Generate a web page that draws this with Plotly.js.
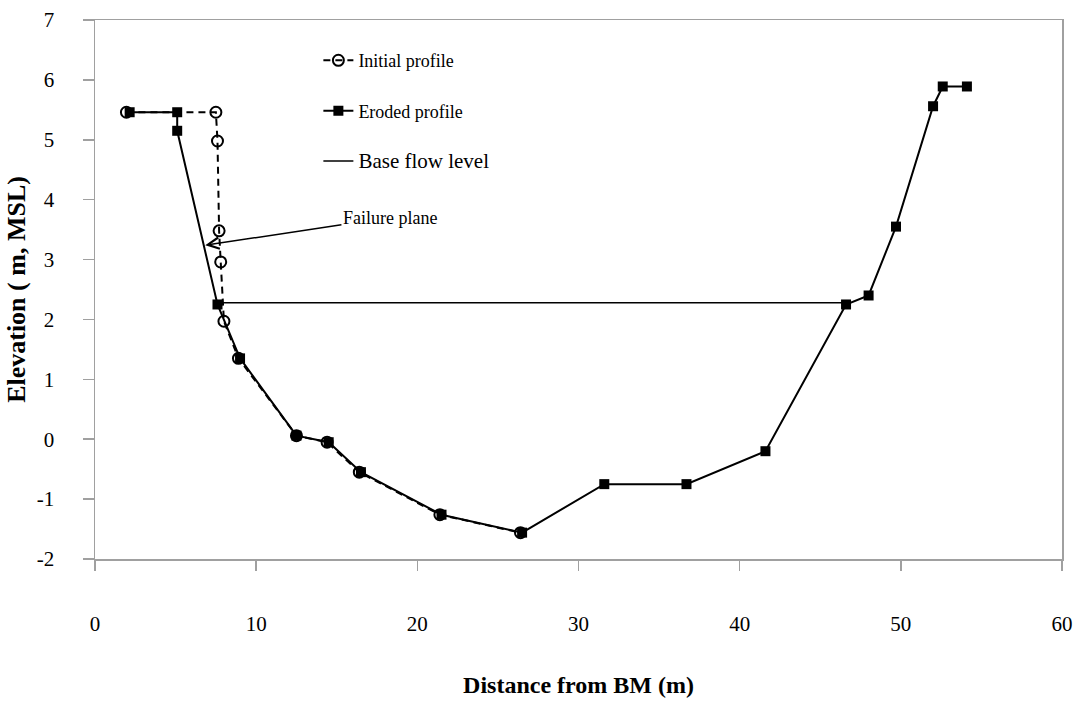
<!DOCTYPE html>
<html>
<head>
<meta charset="utf-8">
<script src="https://cdn.plot.ly/plotly-3.0.1.min.js"></script>
<style>
html,body{margin:0;padding:0;background:#fff;}
#chart{width:1084px;height:702px;}
</style>
</head>
<body>
<div id="chart"></div>
<script>
// Initial profile
const initialX = [1.95, 7.5, 7.6, 7.7, 7.8, 8.0, 8.9, 12.5, 14.4, 16.4, 21.4, 26.4];
const initialY = [5.46, 5.46, 4.98, 3.48, 2.96, 1.97, 1.35, 0.06, -0.05, -0.55, -1.26, -1.56];
// Eroded profile
const erodedX = [2.15, 5.1, 5.1, 7.6, 9.0, 12.5, 14.5, 16.5, 21.5, 26.5, 31.6, 36.7, 41.6, 46.6, 48.0, 49.7, 52.0, 52.6, 54.1];
const erodedY = [5.46, 5.46, 5.15, 2.25, 1.35, 0.06, -0.05, -0.55, -1.26, -1.56, -0.75, -0.75, -0.2, 2.25, 2.4, 3.55, 5.56, 5.89, 5.89];
// Base flow level
const baseX = [7.6, 46.6];
const baseY = [2.28, 2.28];
// Annotation
const failureTip = [6.84, 3.24];
const failureLabel = [18.3, 3.7];
const xTicks = [0, 10, 20, 30, 40, 50, 60];
const yTicks = [-2, -1, 0, 1, 2, 3, 4, 5, 6, 7];

const font = 'Liberation Serif, Times New Roman, serif';

const traces = [
  {
    x: initialX, y: initialY, name: 'Initial profile', type: 'scatter', mode: 'lines+markers',
    line: {color: '#000', width: 2, dash: '7px,5px'},
    marker: {symbol: 'circle-open', size: 11, color: '#000', line: {width: 2, color: '#000'}},
    legendgroup: 'a'
  },
  {
    x: erodedX, y: erodedY, name: 'Eroded profile', type: 'scatter', mode: 'lines+markers',
    line: {color: '#000', width: 2},
    marker: {symbol: 'square', size: 10, color: '#000'},
    legendgroup: 'b'
  },
  {
    x: baseX, y: baseY, name: '<span style="font-size:21px">Base flow level</span>', type: 'scatter', mode: 'lines',
    line: {color: '#000', width: 1.5},
    legendgroup: 'c'
  }
];

const layout = {
  width: 1084, height: 702,
  margin: {l: 95, r: 22, t: 20, b: 143},
  paper_bgcolor: '#fff', plot_bgcolor: '#fff',
  font: {family: font, color: '#000', size: 20},
  showlegend: true,
  legend: {
    x: 0.231, y: 0.959, xanchor: 'left', yanchor: 'top',
    bgcolor: 'rgba(0,0,0,0)', font: {family: font, size: 18, color: '#000'},
    tracegroupgap: 24
  },
  xaxis: {
    range: [0, 60], tickvals: xTicks, ticktext: xTicks.map(String),
    showgrid: false, zeroline: false,
    showline: true, linecolor: '#a0a0a0', linewidth: 1.5, mirror: true,
    ticks: 'outside', ticklen: 10, tickcolor: '#a0a0a0', tickwidth: 1.5,
    ticklabelstandoff: 35,
    tickfont: {family: font, size: 21, color: '#000'},
    title: {text: '<b>Distance from BM (m)</b>', font: {family: font, size: 24, color: '#000'}, standoff: 41}
  },
  yaxis: {
    range: [-2, 7], tickvals: yTicks, ticktext: yTicks.map(String),
    showgrid: false, zeroline: false,
    showline: true, linecolor: '#a0a0a0', linewidth: 1.5, mirror: true,
    ticks: 'outside', ticklen: 11, tickcolor: '#a0a0a0', tickwidth: 1.5,
    ticklabelstandoff: 24,
    tickfont: {family: font, size: 21, color: '#000'},
    title: {text: '<b>Elevation ( m, MSL)</b>', font: {family: font, size: 26, color: '#000'}, standoff: 3}
  },
  annotations: [{
    x: failureTip[0], y: failureTip[1], xref: 'x', yref: 'y',
    ax: failureLabel[0], ay: failureLabel[1], axref: 'x', ayref: 'y',
    text: 'Failure plane', showarrow: true, arrowhead: 5, arrowsize: 1.5, arrowwidth: 1.5,
    arrowcolor: '#000', font: {family: font, size: 18, color: '#000'}
  }]
};

Plotly.newPlot('chart', traces, layout, {displayModeBar: false, staticPlot: true});
</script>
</body>
</html>
